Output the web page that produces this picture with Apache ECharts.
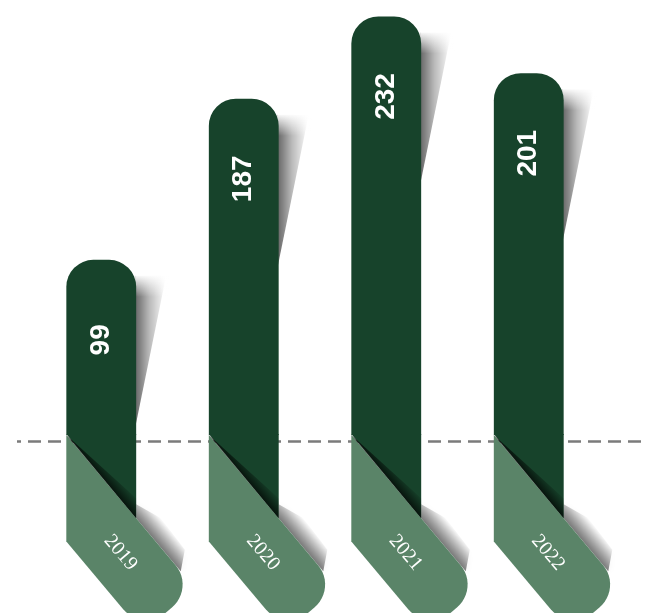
<!DOCTYPE html>
<html>
<head>
<meta charset="utf-8">
<script src="https://cdn.jsdelivr.net/npm/echarts@6/dist/echarts.min.js"></script>
<style>
  html, body { margin: 0; padding: 0; background: #fff; }
  #chart { width: 645px; height: 613px; }
</style>
</head>
<body>
<div id="chart"></div>
<script>
// 数据
const years = ['2019', '2020', '2021', '2022'];
const values = [99, 187, 232, 201];

const DARK = '#17432b';
const LIGHT = '#5a8468';
const FOLD_ANGLE = 50 * Math.PI / 180; // 折角

const chart = echarts.init(document.getElementById('chart'));

// 虚线基准线
function renderBaseLine(params, api) {
  const p = api.coord([0, api.value(1)]);
  const y = Math.round(p[1]) + 0.5;
  return {
    type: 'line',
    shape: { x1: params.coordSys.x - 13, y1: y, x2: api.getWidth(), y2: y },
    style: { stroke: '#7b7b7b', lineWidth: 2.5, lineDash: [13, 7], lineDashOffset: 9 },
    silent: true,
  };
}

function renderBar(params, api) {
  const i = api.value(0);
  const v = api.value(1);
  const top = api.coord([i, v]);
  const base = api.coord([i, 0]);
  const bw = api.size([1, 0])[0] * 0.49;
  const left = top[0] - bw / 2;
  const right = top[0] + bw / 2;
  const f0 = base[1] - 6;
  const dx = Math.cos(FOLD_ANGLE);
  const dy = Math.sin(FOLD_ANGLE);
  const f1 = f0 + bw * Math.tan(FOLD_ANGLE);

  // 折叠带的局部坐标
  const W = bw * 0.98;
  const T = 200;
  const R = 30;
  const P = (t, s) => [left + t * dx - s * dy, f0 + t * dy + s * dx];
  const t0 = W * Math.tan(FOLD_ANGLE);

  const band = [P(0, 0), P(T - R, 0)];
  const c1 = P(T - R, R);
  const c2 = P(T - R, W - R);
  for (let k = 1; k <= 12; k++) {
    const a = (k / 12) * Math.PI / 2;
    band.push([c1[0] + R * (Math.cos(a) * dy + Math.sin(a) * dx), c1[1] + R * (-Math.cos(a) * dx + Math.sin(a) * dy)]);
  }
  for (let k = 0; k <= 12; k++) {
    const a = (k / 12) * Math.PI / 2;
    band.push([c2[0] + R * (Math.cos(a) * dx - Math.sin(a) * dy), c2[1] + R * (Math.cos(a) * dy + Math.sin(a) * dx)]);
  }
  band.push(P(t0, W));

  const t1 = bw / dx;
  const Q = (t, o) => { const p = P(t, 0); return [p[0] + o * dy, p[1] - o * dx]; };
  const edgeShadow = [[right, f1 - 14], Q(t1 + 16, 19), Q(T - R - 6, 17), P(T - R + 8, 0), P(t1, 0)];
  const gA = P(150, 0);
  const gB = Q(150, 19);

  const foldA = P(60, 0);
  const foldB = Q(60, 14);

  const yearPos = P(125, W / 2);
  const sTop = top[1] + 16;

  return {
    type: 'group',
    children: [
      // 顶部阴影
      {
        type: 'polygon',
        shape: { points: [[right - 1, sTop], [right + 30, sTop], [right - 1, top[1] + 168]] },
        style: {
          fill: new echarts.graphic.LinearGradient(0, 0, 1, 0, [
            { offset: 0, color: 'rgba(0,0,0,0.6)' },
            { offset: 0.45, color: 'rgba(0,0,0,0.28)' },
            { offset: 1, color: 'rgba(0,0,0,0)' },
          ]),
        },
      },
      // 阴影顶端渐隐
      {
        type: 'rect',
        shape: { x: right - 1, y: sTop - 1, width: 34, height: 22 },
        style: {
          fill: new echarts.graphic.LinearGradient(0, 0, 0, 1, [
            { offset: 0, color: 'rgba(255,255,255,1)' },
            { offset: 1, color: 'rgba(255,255,255,0)' },
          ]),
        },
      },
      // 折叠带阴影
      {
        type: 'polygon',
        shape: { points: edgeShadow },
        style: {
          fill: new echarts.graphic.LinearGradient(gA[0], gA[1], gB[0], gB[1], [
            { offset: 0, color: 'rgba(0,0,0,0.5)' },
            { offset: 1, color: 'rgba(0,0,0,0)' },
          ], true),
          shadowBlur: 6,
          shadowColor: 'rgba(0,0,0,0.15)',
        },
      },
      // 浅色折叠带
      { type: 'polygon', shape: { points: band }, style: { fill: LIGHT } },
      // 深色柱体
      {
        type: 'rect',
        shape: { x: left, y: top[1], width: bw, height: f0 - top[1], r: [27, 27, 0, 0] },
        style: { fill: DARK },
      },
      {
        type: 'polygon',
        shape: { points: [[left, f0 - 1], [right, f0 - 1], [right, f1]] },
        style: { fill: DARK },
      },
      // 折痕暗部
      {
        type: 'polygon',
        shape: { points: [[left, f0], [right, f1], [right, f1 - 20]] },
        style: {
          fill: new echarts.graphic.LinearGradient(foldA[0], foldA[1], foldB[0], foldB[1], [
            { offset: 0, color: 'rgba(0,0,0,0.7)' },
            { offset: 1, color: 'rgba(0,0,0,0)' },
          ], true),
        },
      },
      // 数值
      {
        type: 'text',
        x: top[0],
        y: top[1] + 80,
        rotation: Math.PI / 2,
        style: {
          text: String(v),
          fill: '#fff',
          font: 'bold 28px "Liberation Sans", Arial, sans-serif',
          align: 'center',
          verticalAlign: 'middle',
        },
      },
      // 年份
      {
        type: 'text',
        x: yearPos[0],
        y: yearPos[1],
        rotation: -FOLD_ANGLE,
        style: {
          text: years[i],
          fill: '#fff',
          font: '20px "Liberation Serif", "DejaVu Serif", serif',
          align: 'center',
          verticalAlign: 'middle',
        },
      },
    ],
  };
}

chart.setOption({
  animation: false,
  grid: { left: 30, right: 45, top: 0, bottom: 0 },
  xAxis: { type: 'category', data: years, show: false },
  yAxis: { type: 'value', min: -94, max: 241, show: false },
  series: [
    {
      type: 'custom',
      z: 1,
      renderItem: renderBaseLine,
      data: [[0, 0]],
    },
    {
      type: 'custom',
      z: 2,
      renderItem: renderBar,
      data: values.map((v, i) => [i, v]),
    },
  ],
});
</script>
</body>
</html>
